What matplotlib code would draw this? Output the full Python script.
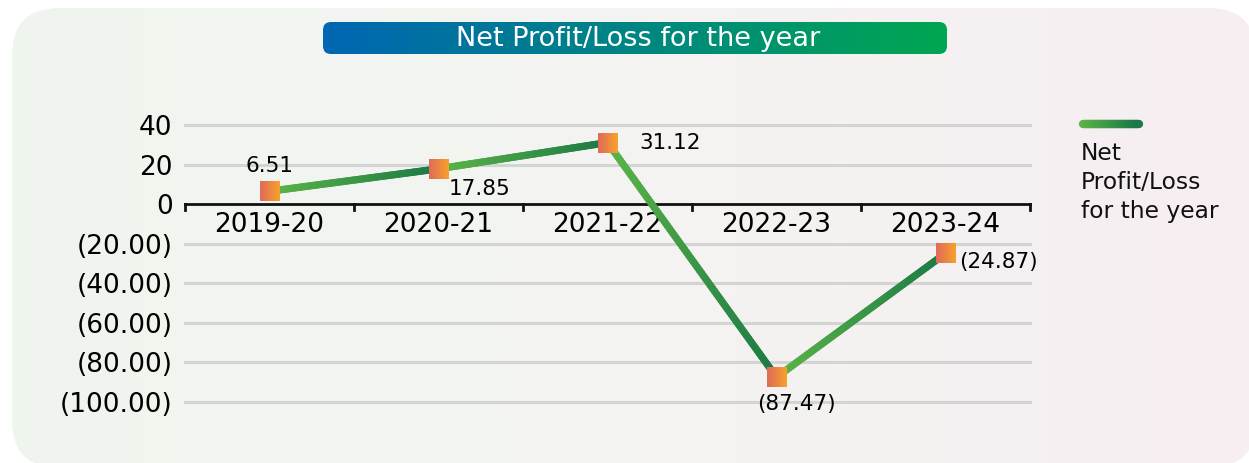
import numpy as np
import matplotlib
matplotlib.use("Agg")
import matplotlib.pyplot as plt
from matplotlib.patches import FancyBboxPatch
from matplotlib.collections import LineCollection
from matplotlib.colors import LinearSegmentedColormap

# data
years = ["2019-20", "2020-21", "2021-22", "2022-23", "2023-24"]
profit = [6.51, 17.85, 31.12, -87.47, -24.87]
point_labels = ["6.51", "17.85", "31.12", "(87.47)", "(24.87)"]
yticks = [40, 20, 0, -20, -40, -60, -80, -100]
ytick_labels = ["40", "20", "0", "(20.00)", "(40.00)", "(60.00)", "(80.00)", "(100.00)"]
title = "Net Profit/Loss for the year"
legend_label = "Net\nProfit/Loss\nfor the year"

W, H = 1249, 463
fig = plt.figure(figsize=(W / 100, H / 100), dpi=100)
fig.patch.set_facecolor("white")

line_cmap = LinearSegmentedColormap.from_list("ln", ["#5db548", "#1b7a45"])
marker_cmap = LinearSegmentedColormap.from_list("mk", ["#e06a5a", "#f7a22a"])

# background panel in pixel coords
bg = fig.add_axes([0, 0, 1, 1])
bg.set_xlim(0, W)
bg.set_ylim(H, 0)
bg.axis("off")

panel_cmap = LinearSegmentedColormap.from_list("bg", ["#eff6ee", "#f4f4f2", "#f7eef1"])
grad = np.linspace(0, 1, 256).reshape(1, -1)
im = bg.imshow(grad, cmap=panel_cmap, extent=(12, 1256, 468, 8), aspect="auto", zorder=0)
panel = FancyBboxPatch((12 + 48, 8 + 48), 1256 - 12 - 96, 468 - 8 - 96,
                       boxstyle="round,pad=48", transform=bg.transData,
                       facecolor="none", edgecolor="none")
bg.add_patch(panel)
im.set_clip_path(panel)

# title banner
tcmap = LinearSegmentedColormap.from_list("tt", ["#0066b3", "#00a651"])
tim = bg.imshow(grad, cmap=tcmap, extent=(323, 947, 54, 22), aspect="auto", zorder=2)
tbox = FancyBboxPatch((323 + 8, 22 + 8), 947 - 323 - 16, 54 - 22 - 16,
                      boxstyle="round,pad=8", transform=bg.transData,
                      facecolor="none", edgecolor="none")
bg.add_patch(tbox)
tim.set_clip_path(tbox)
bg.text(638, 39, title, color="white", fontsize=19.5, ha="center", va="center",
        fontweight="medium", zorder=3)

# legend
lx = np.linspace(1083, 1139, 60)
lsegs = [[(lx[i], 124), (lx[i + 1], 124)] for i in range(len(lx) - 1)]
lc = LineCollection(lsegs, colors=line_cmap(np.linspace(0, 1, len(lsegs))),
                    linewidths=6, capstyle="round", zorder=3)
bg.add_collection(lc)
bg.text(1081, 142, legend_label, fontsize=16.8, ha="left", va="top",
        linespacing=1.33, color="#111111", zorder=3)

# main axes
ax = fig.add_axes([185 / W, 1 - 402 / H, 845 / W, 277 / H])
ax.patch.set_alpha(0)
ax.set_xlim(-0.5, len(years) - 0.5)
ax.set_ylim(-100, 40)
for s in ax.spines.values():
    s.set_visible(False)

for v in yticks:
    if v != 0:
        ax.axhline(v, color="#d4d4d4", lw=2.2, zorder=1, clip_on=False)
ax.axhline(0, color="#111111", lw=2, zorder=2, clip_on=False)
for b in np.arange(-0.5, len(years), 1.0):
    ax.plot([b, b], [0, -3.2], color="#111111", lw=2, zorder=2, clip_on=False)

ax.set_xticks([])
ax.set_yticks(yticks)
ax.set_yticklabels(ytick_labels, fontsize=19)
ax.tick_params(axis="y", length=0, pad=9)

for i, yr in enumerate(years):
    ax.annotate(yr, (i, 0), xytext=(0, -6), textcoords="offset points",
                ha="center", va="top", fontsize=19)

# gradient line segments (light at left, dark at right)
x = np.arange(len(years))
segs, cols = [], []
for i in range(len(x) - 1):
    t = np.linspace(0, 1, 80)
    xs = x[i] + (x[i + 1] - x[i]) * t
    ys = profit[i] + (profit[i + 1] - profit[i]) * t
    for j in range(len(t) - 1):
        segs.append([(xs[j], ys[j]), (xs[j + 1], ys[j + 1])])
        cols.append(line_cmap(t[j]))
ax.add_collection(LineCollection(segs, colors=cols, linewidths=5.2,
                                 capstyle="round", zorder=3))

# gradient square markers (20 px)
dx = 10 * (len(years)) / 845
dy = 10 * 140 / 277
for xi, yi in zip(x, profit):
    ax.imshow(grad, cmap=marker_cmap, extent=(xi - dx, xi + dx, yi - dy, yi + dy),
              aspect="auto", zorder=4)
ax.set_xlim(-0.5, len(years) - 0.5)
ax.set_ylim(-100, 40)

offsets = [(0, 11, "center", "bottom"), (7, -7, "left", "top"),
           (23, 0, "left", "center"), (14, -12, "center", "top"),
           (10, -6, "left", "center")]
for xi, yi, lab, (ox, oy, ha, va) in zip(x, profit, point_labels, offsets):
    ax.annotate(lab, (xi, yi), xytext=(ox, oy), textcoords="offset points",
                ha=ha, va=va, fontsize=15.5, zorder=5)

fig.savefig("out.png", dpi=100, facecolor="white")
